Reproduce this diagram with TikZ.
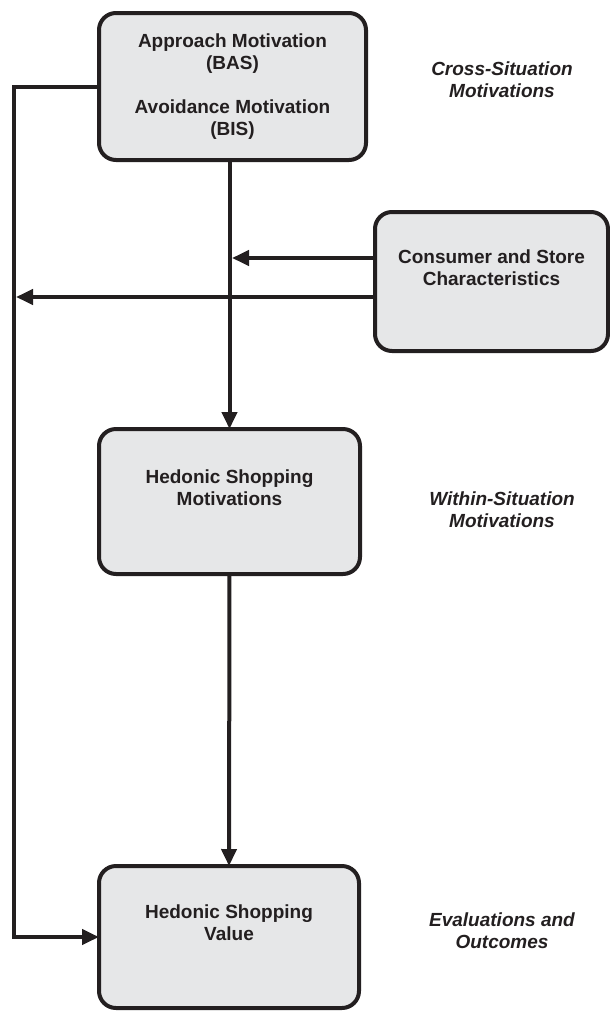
\documentclass[tikz,border=0pt]{standalone}
\usepackage{fontspec}
\setmainfont{Liberation Sans}
\usetikzlibrary{arrows.meta}
\definecolor{boxfill}{HTML}{E6E7E8}
\definecolor{ink}{HTML}{231F20}
\begin{document}
\begin{tikzpicture}[x=1pt,y=-1pt,
  box/.style={draw=ink,fill=boxfill,line width=4pt,rounded corners=17pt,
    inner sep=0pt,outer sep=0pt,align=center,
    font=\fontsize{19}{22}\selectfont\bfseries,text=ink},
  lab/.style={align=center,inner sep=0pt,
    font=\fontsize{19}{22}\selectfont\bfseries\itshape,text=ink},
  conn/.style={draw=ink,line width=4pt},
  arr/.style={conn,-{Triangle[length=17pt,width=15pt]}}]
\useasboundingbox (0,0) rectangle (610,1013);
\node[box,minimum width=267pt,minimum height=147pt] (b1) at (232.5,86.5)
  {Approach Motivation\\(BAS)\\[22pt]Avoidance Motivation\\(BIS)};
\node[box,minimum width=233pt,minimum height=139pt] (b2) at (491.5,281.5)
  {Consumer and Store\\Characteristics\\\strut};
\node[box,minimum width=261pt,minimum height=145pt] (b3) at (229.5,501.5)
  {Hedonic Shopping\\Motivations\\\strut};
\node[box,minimum width=260pt,minimum height=142pt] (b4) at (229,937)
  {Hedonic Shopping\\Value\\\strut};
\node[lab] (l1) at (502,80) {Cross-Situation\\Motivations};
\node[lab] (l2) at (502,510) {Within-Situation\\Motivations};
\node[lab] (l3) at (502,931) {Evaluations and\\Outcomes};
\coordinate (J1) at (232,258);
\coordinate (J2) at (16,297);
\coordinate (L) at (14,0);
\draw[arr] (b1.south -| b3.north) -- (b3.north);
\draw[arr] (b3.south) -- (b4.north);
\draw[arr] (b2.west |- J1) -- (J1);
\draw[arr] (b2.west |- J2) -- (J2);
\draw[arr] (b1.west) -- (b1.west -| L) -- (b4.west -| L) -- (b4.west);
\end{tikzpicture}
\end{document}
